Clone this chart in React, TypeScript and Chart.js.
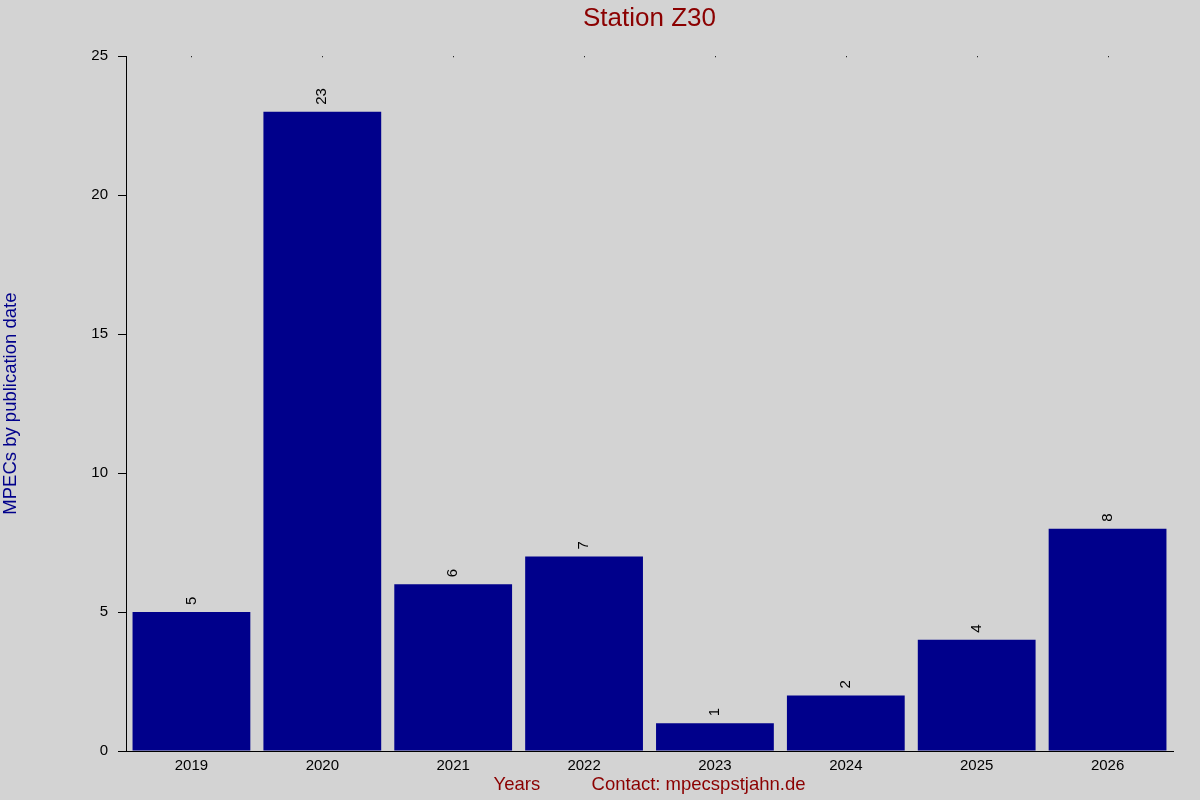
import { useEffect, useRef } from 'react';
import { Chart, ChartConfiguration, Plugin, registerables } from 'chart.js';

// Register Chart.js components
Chart.register(...registerables);

const years = ['2019', '2020', '2021', '2022', '2023', '2024', '2025', '2026'];
const mpecCounts = [5, 23, 6, 7, 1, 2, 4, 8];
const yTicks = [0, 5, 10, 15, 20, 25];

const FONT = '"Liberation Sans", Arial, sans-serif';

// Grey page background behind everything
const backgroundPlugin: Plugin = {
  id: 'bgFill',
  beforeDraw(chart) {
    const { ctx, width, height } = chart;
    ctx.save();
    ctx.fillStyle = '#d3d3d3';
    ctx.fillRect(0, 0, width, height);
    ctx.restore();
  }
};

// Rotated value labels above each bar, plus the tiny top tick dots
const valueLabelPlugin: Plugin = {
  id: 'valueLabels',
  afterDatasetsDraw(chart) {
    const { ctx, chartArea } = chart;
    const meta = chart.getDatasetMeta(0);
    ctx.save();
    ctx.font = `15px ${FONT}`;
    ctx.fillStyle = '#000000';
    ctx.textAlign = 'left';
    ctx.textBaseline = 'middle';
    meta.data.forEach((bar, i) => {
      const { x, y } = bar.getProps(['x', 'y'], true) as { x: number; y: number };
      ctx.save();
      ctx.translate(x, y - 7);
      ctx.rotate(-Math.PI / 2);
      ctx.fillText(String(mpecCounts[i]), 0, 0);
      ctx.restore();
      ctx.fillRect(Math.round(x), chartArea.top, 1, 1);
    });
    ctx.restore();
  }
};

export default function App() {
  const canvasRef = useRef<HTMLCanvasElement>(null);
  const chartRef = useRef<Chart | null>(null);

  useEffect(() => {
    document.body.style.margin = '0';
    if (!canvasRef.current) return;

    if (chartRef.current) {
      chartRef.current.destroy();
    }

    const ctx = canvasRef.current.getContext('2d');
    if (!ctx) return;

    const config: ChartConfiguration = {
      type: 'bar',
      data: {
        labels: years,
        datasets: [{
          label: 'MPECs',
          data: mpecCounts,
          backgroundColor: '#00008b',
          borderWidth: 0,
          categoryPercentage: 0.9,
          barPercentage: 1
        }]
      },
      plugins: [backgroundPlugin, valueLabelPlugin],
      options: {
        animation: false,
        responsive: true,
        maintainAspectRatio: false,
        layout: {
          padding: { left: 0, right: 27, top: 0, bottom: 0 }
        },
        plugins: {
          legend: { display: false },
          tooltip: { enabled: false },
          title: {
            display: true,
            fullSize: false,
            text: 'Station Z30',
            color: '#8b0000',
            font: { family: FONT, size: 26, weight: 'normal' },
            padding: { top: 3, bottom: 22 }
          }
        },
        scales: {
          x: {
            afterFit(scale) {
              scale.height = 49;
            },
            grid: { display: false, drawTicks: false },
            border: { display: true, color: '#000000', width: 1 },
            ticks: {
              color: '#000000',
              font: { family: FONT, size: 15 },
              padding: 6,
              maxRotation: 0
            },
            title: {
              display: true,
              text: 'Years          Contact: mpecspstjahn.de',
              color: '#8b0000',
              font: { family: FONT, size: 18.5 },
              padding: { top: 0, bottom: 4 }
            }
          },
          y: {
            min: 0,
            max: 25,
            afterFit(scale) {
              scale.width = 126;
            },
            afterBuildTicks(scale) {
              scale.ticks = yTicks.map((v) => ({ value: v }));
            },
            grid: {
              drawOnChartArea: false,
              drawTicks: true,
              tickLength: 8,
              color: '#000000'
            },
            border: { display: true, color: '#000000', width: 1 },
            ticks: {
              color: '#000000',
              font: { family: FONT, size: 15 },
              padding: 10
            },
            title: {
              display: true,
              text: 'MPECs by publication date',
              color: '#00008b',
              font: { family: FONT, size: 18.5 },
              padding: { top: 0, bottom: 0 }
            }
          }
        }
      }
    };

    chartRef.current = new Chart(ctx, config);

    return () => {
      if (chartRef.current) {
        chartRef.current.destroy();
        chartRef.current = null;
      }
    };
  }, []);

  return (
    <div style={{ width: 1200, height: 800, position: 'relative', background: '#d3d3d3' }}>
      <canvas ref={canvasRef}></canvas>
    </div>
  );
}
